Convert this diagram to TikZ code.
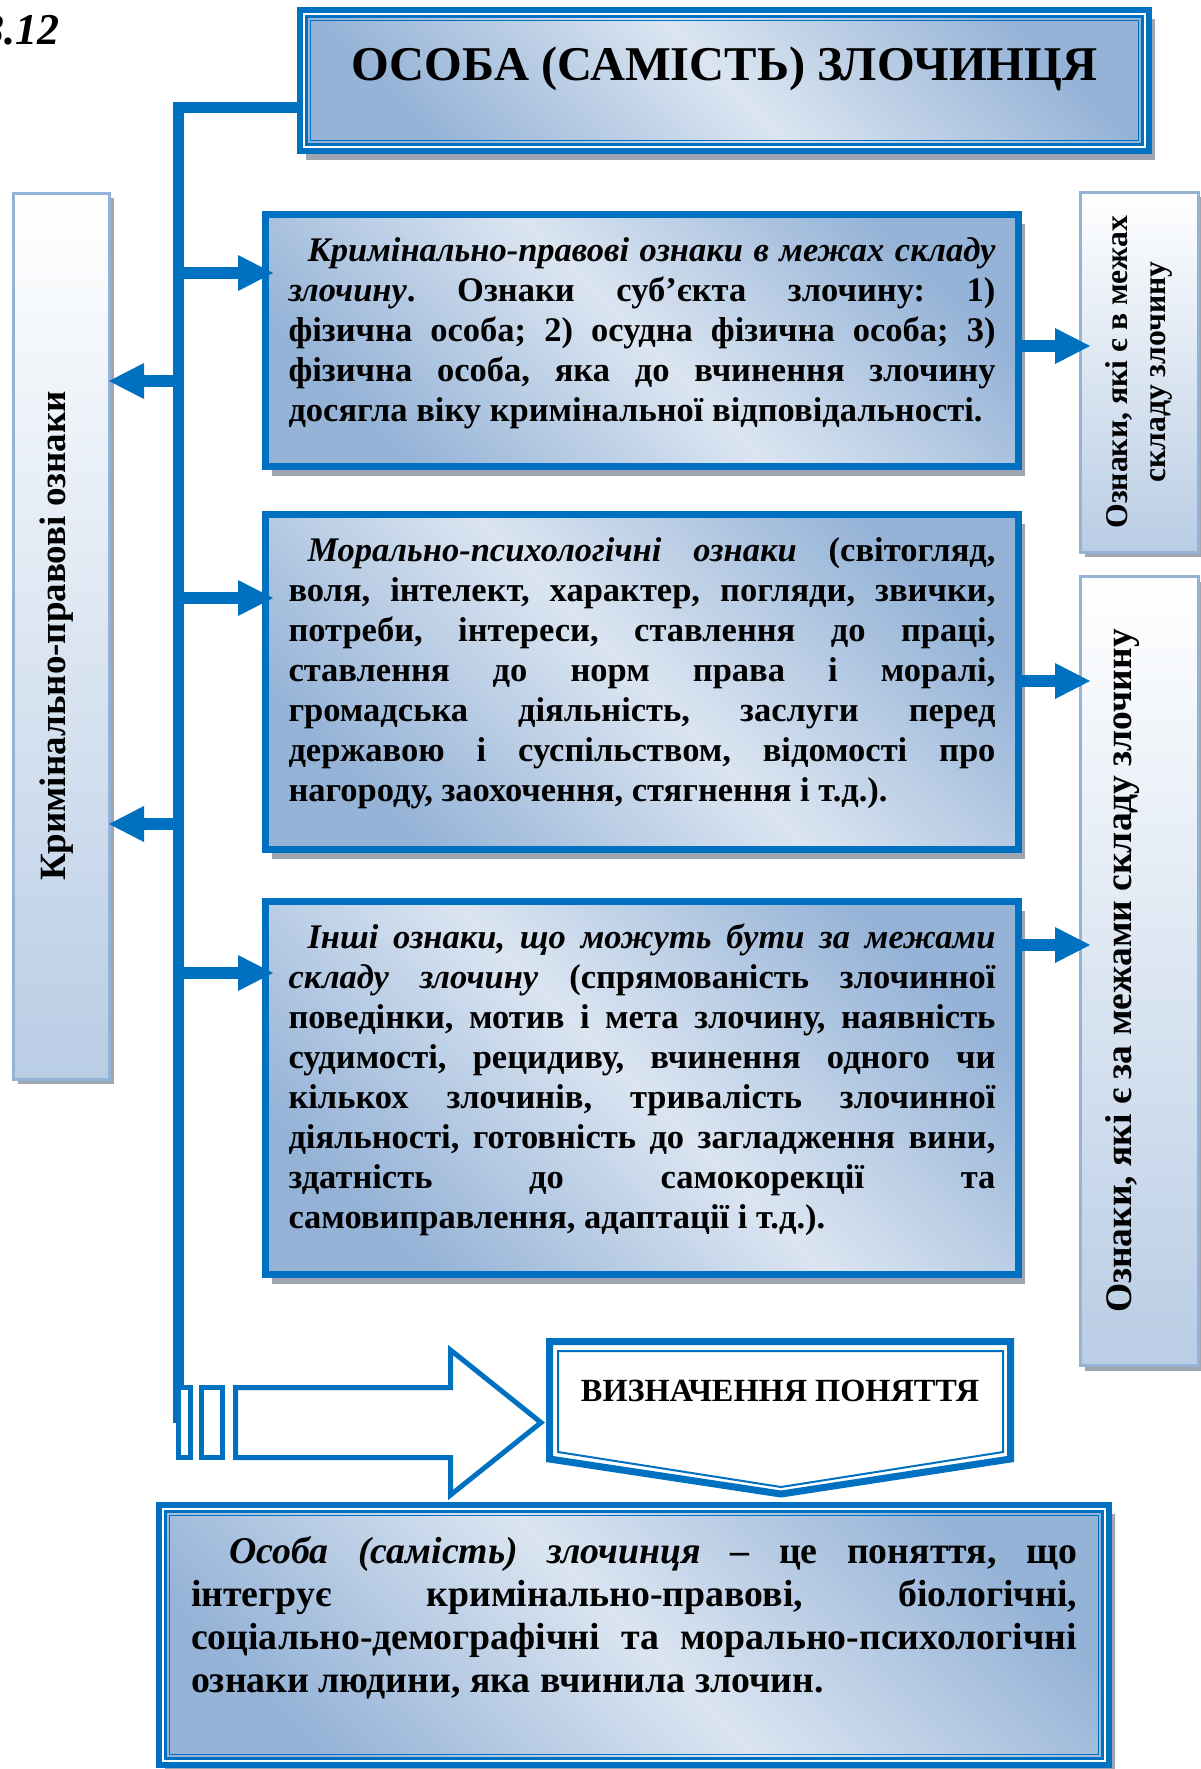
\documentclass[tikz,border=0pt]{standalone}
\usepackage{fontspec}
\setmainfont{Liberation Serif}
\usetikzlibrary{arrows.meta,positioning,calc,shadows}
\definecolor{OsBlue}{HTML}{0070C0}
\definecolor{OsLight}{HTML}{DBE5F1}
\definecolor{OsDark}{HTML}{95B3D7}
\definecolor{OsSide}{HTML}{B9CDE5}
\definecolor{OsShadow}{HTML}{9EA6B2}
\tolerance=10000
\hyphenpenalty=10000
\exhyphenpenalty=10000
\frenchspacing

\begin{document}
\begin{tikzpicture}[x=1pt,y=-1pt,font=\bfseries,
  grad/.style={top color=OsDark,bottom color=OsDark,middle color=OsLight,shading angle=-45},
  shad/.style={drop shadow={shadow xshift=6pt,shadow yshift=-9pt,fill=OsShadow,opacity=1}},
  frame/.style={grad,shad,draw=OsBlue,line width=6pt,inner sep=0pt,outer sep=0pt},
  kbox/.style={grad,shad,draw=OsBlue,line width=7pt,inner sep=0pt,outer sep=0pt,
    minimum width=753pt,text width=707pt,align=justify,font=\fontsize{34.5}{40}\selectfont\bfseries},
  side/.style={draw=OsDark,line width=3pt,inner sep=0pt,outer sep=0pt,top color=white,bottom color=OsSide,
    drop shadow={shadow xshift=4pt,shadow yshift=-5pt,fill=OsShadow,opacity=1}},
  vtext/.style={rotate=90,align=center,inner sep=0pt},
  arr/.style={OsBlue,line width=12pt,-{Triangle[length=35pt,width=36pt,line width=0pt]}},
  bus/.style={OsBlue,line width=11pt},
  hollow/.style={draw=OsBlue,line width=5pt,fill=white,line join=miter}]
  \useasboundingbox (0,0) rectangle (1200,1769);

  % number of the figure, cut by the page edge
  \node[anchor=base east,inner sep=0pt,font=\fontsize{44}{50}\selectfont\bfseries\itshape] (fignum) at (60,45) {3.12};

  % title
  \node[frame,minimum width=849pt,minimum height=141pt,text height=34pt,text depth=34pt,
    font=\fontsize{48.5}{56}\selectfont\bfseries] (title) at (724.5,80.5) {ОСОБА (САМІСТЬ) ЗЛОЧИНЦЯ};

  % side boxes
  \node[side,minimum width=96pt,minimum height=886pt] (lside) at (61.5,636) {};
  \node[vtext,font=\fontsize{37}{42}\selectfont\bfseries] (lsidet) at ([xshift=-5pt]lside.center) {Кримінально-правові ознаки};
  \node[side,minimum width=117.5pt,minimum height=360pt] (rin) at (1139.25,372) {};
  \node[vtext,font=\fontsize{31.7}{38}\selectfont\bfseries] (rint) at (rin.center) {Ознаки, які є в межах\\складу злочину};
  \node[side,minimum width=117.5pt,minimum height=789pt] (rout) at (1139.25,971) {};
  \node[vtext,font=\fontsize{37.5}{40}\selectfont\bfseries] (routt) at ([xshift=-17pt]rout.center) {Ознаки, які є за межами складу злочину};

  % main boxes
  \node[kbox,minimum height=252pt] (krim) at (642,340.5) {\hspace*{19pt}\textit{Кримінально-правові ознаки в межах складу}\linebreak
    \textit{злочину}. Ознаки суб’єкта злочину: 1)\linebreak
    фізична особа; 2) осудна фізична особа; 3)\linebreak
    фізична особа, яка до вчинення злочину\linebreak
    досягла віку кримінальної відповідальності.\par\kern14pt};
  \node[kbox,minimum height=335pt] (moral) at (642,682) {\hspace*{19pt}\textit{Морально-психологічні ознаки} (світогляд,\linebreak
    воля, інтелект, характер, погляди, звички,\linebreak
    потреби, інтереси, ставлення до праці,\linebreak
    ставлення до норм права і моралі,\linebreak
    громадська діяльність, заслуги перед\linebreak
    державою і суспільством, відомості про\linebreak
    нагороду, заохочення, стягнення і т.д.).\par\kern18pt};
  \node[kbox,minimum height=373pt] (inshi) at (642,1088) {\hspace*{19pt}\textit{Інші ознаки, що можуть бути за межами}\linebreak
    \textit{складу злочину} (спрямованість злочинної\linebreak
    поведінки, мотив і мета злочину, наявність\linebreak
    судимості, рецидиву, вчинення одного чи\linebreak
    кількох злочинів, тривалість злочинної\linebreak
    діяльності, готовність до загладження вини,\linebreak
    здатність до самокорекції та\linebreak
    самовиправлення, адаптації і т.д.).\par\kern16pt};

  % bus from the title
  \coordinate (bustop) at (178.5,107.5);
  \coordinate (busend) at (178.5,1423);
  \draw[bus] (title.west |- bustop) -- (bustop) -- (busend);
  \foreach \n/\y in {krim/273,moral/598,inshi/973}{
    \coordinate (in-\n) at (178.5,\y);
    \draw[arr,shorten >=-7.5pt] (in-\n) -- (in-\n -| \n.west);
  }
  \foreach \y [count=\i] in {381,824}{
    \coordinate (back\i) at (178.5,\y);
    \draw[arr,shorten >=-0.5pt] (back\i) -- (back\i -| lside.east);
  }

  % to the right boxes
  \coordinate (out1) at ($(krim.east)+(0,5.5)$);
  \coordinate (out2) at ($(moral.east)+(0,-1)$);
  \coordinate (out3) at ($(inshi.east)+(0,-143)$);
  \draw[arr,shorten >=-9.5pt] (out1) -- (out1 -| rin.west);
  \draw[arr,shorten >=-9.5pt] (out2) -- (out2 -| rout.west);
  \draw[arr,shorten >=-9.5pt] (out3) -- (out3 -| rout.west);

  % hollow arrow with stripes
  \draw[hollow] (178.5,1387.5) rectangle (190.5,1457.5);
  \draw[hollow] (201.5,1387.5) rectangle (222.5,1457.5);
  \draw[hollow] (235.5,1387.5) -- (450.5,1387.5) -- (450.5,1350) -- (541,1422.5)
    -- (450.5,1495) -- (450.5,1457.5) -- (235.5,1457.5) -- cycle;

  % definition label
  \draw[OsBlue,line width=7pt,fill=white,line join=miter] (549.5,1341.5) -- (1010.5,1341.5)
    -- (1010.5,1459) -- (781,1494) -- (549.5,1459) -- cycle;
  \draw[OsBlue,line width=2pt] (558,1351) -- (1003,1351) -- (1003,1452) -- (781,1487) -- (558,1452) -- cycle;
  \node[inner sep=0pt,font=\fontsize{32.3}{38}\selectfont\bfseries] (defn) at (780,1391) {ВИЗНАЧЕННЯ ПОНЯТТЯ};

  % definition text
  \node[frame,minimum width=950pt,minimum height=260pt,text width=886pt,align=justify,
    font=\fontsize{37.8}{43}\selectfont\bfseries] (concept) at (634,1635) {\hspace*{38pt}\textit{Особа (самість) злочинця} – це поняття, що\linebreak
    інтегрує кримінально-правові, біологічні,\linebreak
    соціально-демографічні та морально-психологічні\linebreak
    ознаки людини, яка вчинила злочин.\par\kern34pt};

  \foreach \n in {title,concept}{
    \draw[white,line width=2pt] ($(\n.north west)+(4,4)$) rectangle ($(\n.south east)+(-4,-4)$);
    \draw[OsBlue,line width=3pt] ($(\n.north west)+(6.5,6.5)$) rectangle ($(\n.south east)+(-6.5,-6.5)$);
    \draw[OsBlue,line width=1.5pt] ($(\n.north west)+(10.5,10.5)$) rectangle ($(\n.south east)+(-10.5,-10.5)$);
  }
\end{tikzpicture}
\end{document}
